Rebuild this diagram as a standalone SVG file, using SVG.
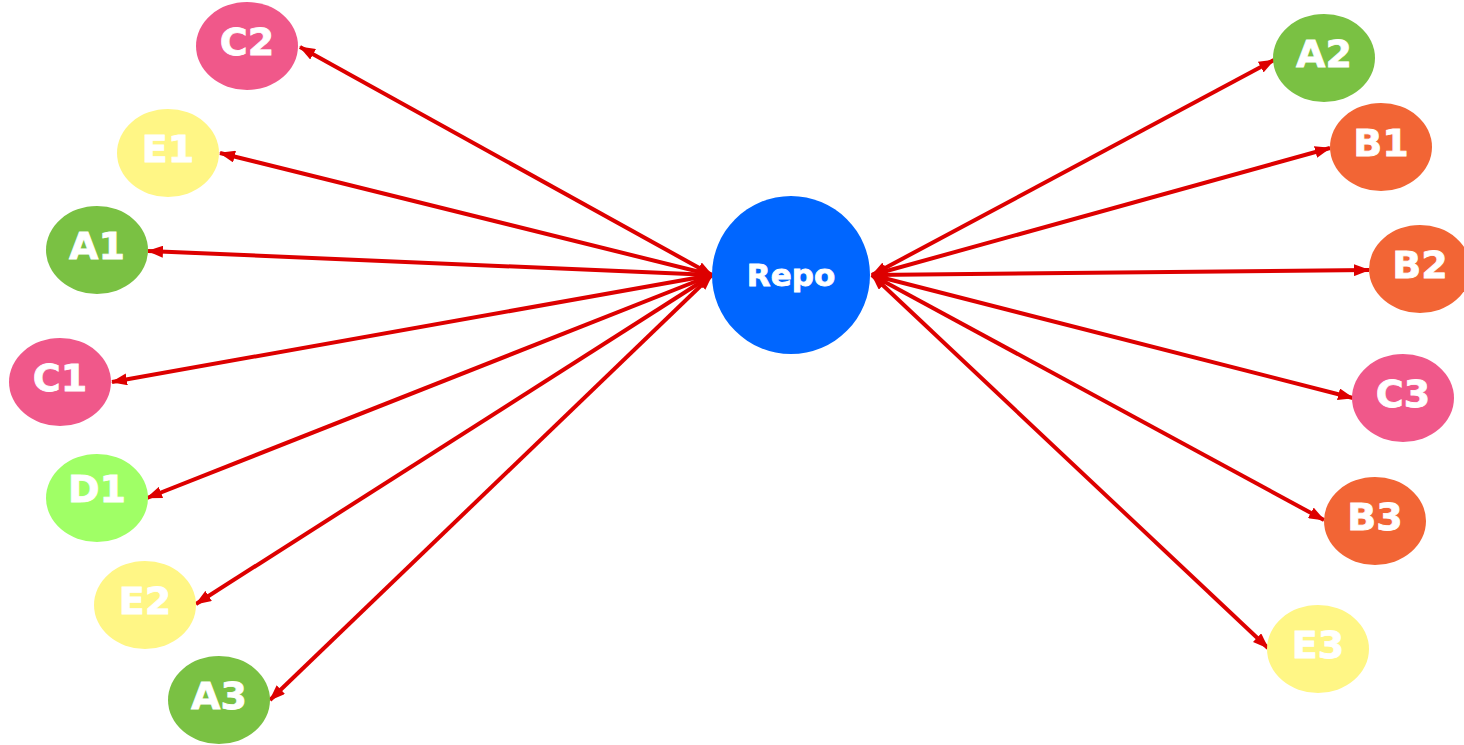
<svg xmlns="http://www.w3.org/2000/svg" width="1464" height="745" viewBox="0 0 1464 745">
  <defs>
    <marker id="arrow" viewBox="0 0 16 12" refX="15" refY="6" markerWidth="16" markerHeight="12" markerUnits="userSpaceOnUse" orient="auto-start-reverse">
      <path d="M0,0 L16,6 L0,12 z" fill="#DD0000"/>
    </marker>
  </defs>
  <style>
    .edge { stroke: #DD0000; stroke-width: 4; fill: none; marker-start: url(#arrow); marker-end: url(#arrow); }
    .lbl { font-family: "DejaVu Sans", Verdana, sans-serif; font-weight: bold; font-size: 38px; fill: #FFFFFF; stroke: #FFFFFF; stroke-width: 0.8; text-anchor: middle; }
    .pink { fill: #F0588A; }
    .yellow { fill: #FFF685; }
    .green { fill: #7AC143; }
    .lime { fill: #A0FF66; }
    .orange { fill: #F26535; }
  </style>

  <g id="connectors">
    <line class="edge" x1="712" y1="275" x2="300" y2="47"/>
    <line class="edge" x1="712" y1="275" x2="220" y2="153"/>
    <line class="edge" x1="712" y1="275" x2="148" y2="251"/>
    <line class="edge" x1="712" y1="275" x2="112" y2="382"/>
    <line class="edge" x1="712" y1="275" x2="147" y2="498"/>
    <line class="edge" x1="712" y1="275" x2="196" y2="604"/>
    <line class="edge" x1="712" y1="275" x2="270" y2="700"/>
    <line class="edge" x1="872" y1="275" x2="1274" y2="60"/>
    <line class="edge" x1="872" y1="275" x2="1330" y2="148"/>
    <line class="edge" x1="872" y1="275" x2="1369" y2="270"/>
    <line class="edge" x1="872" y1="275" x2="1353" y2="398"/>
    <line class="edge" x1="872" y1="275" x2="1324" y2="520"/>
    <line class="edge" x1="872" y1="275" x2="1268" y2="648"/>
  </g>

  <g id="repo">
    <circle cx="791" cy="275" r="79" fill="#0066FF"/>
    <text class="lbl" x="791" y="286" style="font-size:31px">Repo</text>
  </g>

  <g id="C2"><ellipse class="pink" cx="247" cy="46" rx="51" ry="44"/><text class="lbl" x="247" y="55">C2</text></g>
  <g id="E1"><ellipse class="yellow" cx="168" cy="153" rx="51" ry="44"/><text class="lbl" x="168" y="162">E1</text></g>
  <g id="A1"><ellipse class="green" cx="97" cy="250" rx="51" ry="44"/><text class="lbl" x="97" y="259">A1</text></g>
  <g id="C1"><ellipse class="pink" cx="60" cy="382" rx="51" ry="44"/><text class="lbl" x="60" y="391">C1</text></g>
  <g id="D1"><ellipse class="lime" cx="97" cy="498" rx="51" ry="44"/><text class="lbl" x="97" y="502">D1</text></g>
  <g id="E2"><ellipse class="yellow" cx="145" cy="605" rx="51" ry="44"/><text class="lbl" x="145" y="614">E2</text></g>
  <g id="A3"><ellipse class="green" cx="219" cy="700" rx="51" ry="44"/><text class="lbl" x="219" y="709">A3</text></g>

  <g id="A2"><ellipse class="green" cx="1324" cy="58" rx="51" ry="44"/><text class="lbl" x="1324" y="67">A2</text></g>
  <g id="B1"><ellipse class="orange" cx="1381" cy="147" rx="51" ry="44"/><text class="lbl" x="1381" y="156">B1</text></g>
  <g id="B2"><ellipse class="orange" cx="1420" cy="269" rx="51" ry="44"/><text class="lbl" x="1420" y="278">B2</text></g>
  <g id="C3"><ellipse class="pink" cx="1403" cy="398" rx="51" ry="44"/><text class="lbl" x="1403" y="407">C3</text></g>
  <g id="B3"><ellipse class="orange" cx="1375" cy="521" rx="51" ry="44"/><text class="lbl" x="1375" y="530">B3</text></g>
  <g id="E3"><ellipse class="yellow" cx="1318" cy="649" rx="51" ry="44"/><text class="lbl" x="1318" y="658">E3</text></g>
</svg>
